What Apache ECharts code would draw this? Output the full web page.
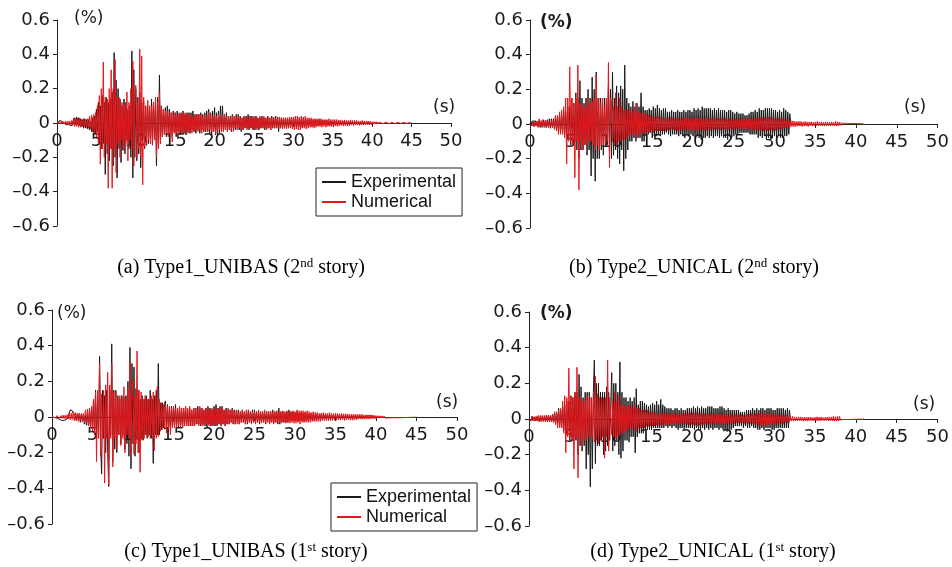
<!DOCTYPE html>
<html>
<head>
<meta charset="utf-8">
<title>Drift time histories</title>
<script src="https://cdn.jsdelivr.net/npm/echarts@6/dist/echarts.min.js"></script>
<style>
  html, body { margin: 0; padding: 0; background: #fff; }
  #chart { width: 952px; height: 567px; }
</style>
</head>
<body>
<div id="chart"></div>
<script>
// sample step of the digitised records (s): value i is at t = i * DT, one row = 1 s
var DT = 0.125;
var xMin = 0, xMax = 50, xStep = 5;
var yMin = -0.6, yMax = 0.6, yStep = 0.2;
var seriesNames = ['Experimental', 'Numerical'];
var captions = [
  ['(a) Type1_UNIBAS (2', 'nd', ' story)'],
  ['(b) Type2_UNICAL (2', 'nd', ' story)'],
  ['(c) Type1_UNIBAS (1', 'st', ' story)'],
  ['(d) Type2_UNICAL (1', 'st', ' story)']
];

// (a) Type1_UNIBAS 2nd story
var expA = [
  0, 0.01, 0.005, 0.015, 0.01, 0.02, 0.005, 0.01,
  -0.005, -0.01, -0.015, -0.02, -0.01, -0.02, -0.005, -0.015,
  0.01, -0.005, 0.03, -0.01, 0.035, -0.01, 0.03, -0.015,
  0.025, -0.02, 0.02, -0.03, 0.025, -0.03, 0.02, -0.035,
  0.02, -0.04, 0.01, -0.05, 0.03, -0.055, 0.04, -0.06,
  0.08, -0.05, 0.12, -0.1, 0.1, -0.15, 0.16, -0.12,
  0.12, -0.3, 0.15, -0.18, 0.12, -0.22, 0.14, -0.15,
  0.18, -0.25, 0.41, -0.2, 0.25, -0.32, 0.2, -0.15,
  0.14, -0.23, 0.1, -0.16, 0.14, -0.18, 0.12, -0.1,
  0.08, -0.15, 0.1, -0.2, 0.42, -0.32, 0.31, -0.2,
  0.2, -0.22, 0.15, -0.18, 0.18, -0.26, 0.12, -0.1,
  0.12, -0.15, 0.1, -0.13, 0.13, -0.12, 0.1, -0.12,
  0.14, -0.1, 0.12, -0.08, 0.1, -0.25, 0.15, -0.12,
  0.28, -0.12, 0.1, -0.08, 0.08, -0.06, 0.09, -0.08,
  0.1, -0.06, 0.08, -0.07, 0.06, -0.08, 0.07, -0.05,
  0.06, -0.08, 0.07, -0.05, 0.05, -0.07, 0.06, -0.06,
  0.07, -0.06, 0.05, -0.07, 0.06, -0.05, 0.06, -0.06,
  0.06, -0.04, 0.07, -0.05, 0.05, -0.06, 0.05, -0.04,
  0.05, -0.06, 0.06, -0.04, 0.05, -0.05, 0.06, -0.05,
  0.07, -0.05, 0.08, -0.06, 0.06, -0.07, 0.07, -0.05,
  0.09, -0.07, 0.06, -0.08, 0.07, -0.06, 0.1, -0.05,
  0.1, -0.05, 0.05, -0.04, 0.06, -0.05, 0.04, -0.04,
  0.04, -0.05, 0.05, -0.03, 0.04, -0.04, 0.05, -0.03,
  0.05, -0.04, 0.04, -0.05, 0.03, -0.04, 0.04, -0.03,
  0.04, -0.03, 0.05, -0.04, 0.04, -0.03, 0.04, -0.04,
  0.03, -0.04, 0.04, -0.03, 0.03, -0.04, 0.03, -0.03,
  0.04, -0.03, 0.03, -0.04, 0.03, -0.03, 0.04, -0.03,
  0.03, -0.04, 0.04, -0.03, 0.03, -0.03, 0.04, -0.03,
  0.035, -0.05, 0.03, -0.03, 0.03, -0.025, 0.03, -0.03,
  0.03, -0.02, 0.03, -0.03, 0.025, -0.02, 0.03, -0.025,
  0.025, -0.02, 0.03, -0.025, 0.02, -0.02, 0.025, -0.02,
  0.02, -0.025, 0.025, -0.02, 0.02, -0.02, 0.02, -0.015,
  0.02, -0.015, 0.02, -0.02, 0.015, -0.015, 0.02, -0.015,
  0.015, -0.015, 0.02, -0.015, 0.015, -0.012, 0.015, -0.012,
  0.015, -0.012, 0.015, -0.015, 0.012, -0.012, 0.012, -0.01,
  0.012, -0.01, 0.012, -0.012, 0.01, -0.01, 0.012, -0.01,
  0.01, -0.01, 0.012, -0.01, 0.01, -0.008, 0.01, -0.008,
  0.01, -0.008, 0.01, -0.008, 0.008, -0.008, 0.008, -0.006,
  0.008, -0.008, 0.008, -0.006, 0.006, -0.006, 0.006, -0.005,
  0.006, -0.005, 0.006, -0.005, 0.005, -0.004, 0.004, -0.003,
  0
];
var numA = [
  0, 0.005, -0.003, 0.008, -0.005, 0.01, -0.005, 0.008,
  -0.006, 0.01, -0.008, 0.01, -0.01, 0.012, -0.01, 0.015,
  -0.015, 0.03, -0.02, 0.025, -0.02, 0.03, -0.025, 0.03,
  -0.025, 0.02, -0.02, 0.025, -0.02, 0.02, -0.025, 0.025,
  -0.03, 0.04, -0.035, 0.045, -0.05, 0.05, -0.06, 0.06,
  -0.08, 0.1, -0.12, 0.16, -0.24, 0.2, -0.15, 0.355,
  -0.2, 0.15, -0.12, 0.14, -0.38, 0.2, -0.15, 0.31,
  -0.38, 0.2, -0.15, 0.37, -0.29, 0.15, -0.12, 0.15,
  -0.2, 0.12, -0.1, 0.12, -0.15, 0.1, -0.12, 0.18,
  -0.22, 0.12, -0.1, 0.2, -0.15, 0.36, -0.25, 0.15,
  0.22, -0.2, 0.12, -0.15, 0.43, -0.2, 0.39, -0.36,
  0.15, -0.14, 0.1, -0.12, 0.13, -0.1, 0.1, -0.12,
  0.1, -0.13, 0.12, -0.1, 0.15, -0.2, 0.12, -0.15,
  0.18, -0.12, 0.1, -0.08, 0.08, -0.07, 0.07, -0.06,
  0.07, -0.08, 0.06, -0.07, 0.06, -0.11, 0.05, -0.06,
  0.06, -0.06, 0.05, -0.07, 0.06, -0.05, 0.05, -0.07,
  0.06, -0.05, 0.06, -0.05, 0.05, -0.06, 0.05, -0.05,
  0.05, -0.06, 0.04, -0.05, 0.05, -0.04, 0.05, -0.05,
  0.05, -0.04, 0.05, -0.06, 0.04, -0.05, 0.05, -0.04,
  0.04, -0.05, 0.06, -0.04, 0.05, -0.05, 0.04, -0.05,
  0.05, -0.06, 0.04, -0.05, 0.05, -0.04, 0.05, -0.05,
  0.04, -0.05, 0.05, -0.04, 0.04, -0.05, 0.04, -0.04,
  0.03, -0.04, 0.04, -0.05, 0.04, -0.03, 0.04, -0.04,
  0.04, -0.03, 0.03, -0.04, 0.03, -0.04, 0.04, -0.03,
  0.03, -0.04, 0.03, -0.03, 0.04, -0.03, 0.03, -0.04,
  0.04, -0.03, 0.03, -0.04, 0.03, -0.03, 0.04, -0.03,
  0.03, -0.03, 0.04, -0.03, 0.03, -0.04, 0.03, -0.03,
  0.03, -0.04, 0.03, -0.03, 0.035, -0.03, 0.03, -0.03,
  0.03, -0.03, 0.035, -0.03, 0.03, -0.035, 0.03, -0.03,
  0.03, -0.035, 0.03, -0.03, 0.035, -0.03, 0.035, -0.035,
  0.035, -0.04, 0.04, -0.035, 0.04, -0.04, 0.035, -0.04,
  0.04, -0.03, 0.035, -0.03, 0.04, -0.035, 0.03, -0.03,
  0.03, -0.025, 0.03, -0.025, 0.025, -0.03, 0.025, -0.025,
  0.025, -0.02, 0.025, -0.02, 0.025, -0.025, 0.02, -0.02,
  0.02, -0.025, 0.02, -0.02, 0.025, -0.02, 0.02, -0.02,
  0.02, -0.015, 0.02, -0.018, 0.02, -0.02, 0.018, -0.015,
  0.018, -0.015, 0.015, -0.018, 0.018, -0.015, 0.015, -0.018,
  0.015, -0.015, 0.018, -0.012, 0.015, -0.015, 0.015, -0.012,
  0.015, -0.012, 0.012, -0.015, 0.012, -0.012, 0.015, -0.012,
  0.012, -0.01, 0.012, -0.01, 0.012, -0.012, 0.01, -0.01,
  0.008, -0.006, 0.007, -0.006, 0.008, -0.006, 0.006, -0.006,
  0.006, -0.005, 0.006, -0.005, 0.005, -0.005, 0.006, -0.004,
  0.005, -0.005, 0.005, -0.004, 0.004, -0.005, 0.004, -0.004,
  0.004, -0.004, 0.004, -0.003, 0.004, -0.003, 0.003, -0.003,
  0.003, -0.003, 0.002, -0.002, 0.002, -0.002, 0.002, -0.001,
  0
];

// (b) Type2_UNICAL 2nd story
var expB = [
  0, 0.015, -0.01, 0.02, -0.015, 0.02, -0.01, 0.015,
  -0.015, 0.02, -0.02, 0.015, -0.02, 0.025, -0.015, 0.02,
  -0.02, 0.025, -0.02, 0.03, -0.025, 0.03, -0.02, 0.03,
  -0.03, 0.04, -0.035, 0.04, -0.04, 0.05, -0.045, 0.05,
  -0.05, 0.08, -0.06, 0.07, -0.06, 0.1, -0.08, 0.1,
  -0.12, 0.15, -0.1, 0.12, -0.1, 0.18, -0.15, 0.15,
  -0.2, 0.25, -0.15, 0.15, -0.15, 0.12, -0.12, 0.15,
  -0.18, 0.2, -0.15, 0.15, -0.3, 0.27, -0.2, 0.2,
  -0.33, 0.3, -0.2, 0.15, -0.2, 0.15, -0.15, 0.12,
  -0.18, 0.15, -0.12, 0.15, -0.12, 0.22, -0.15, 0.2,
  -0.2, 0.3, -0.18, 0.15, -0.15, 0.22, -0.2, 0.18,
  -0.23, 0.22, -0.15, 0.2, -0.27, 0.34, -0.2, 0.15,
  -0.15, 0.12, -0.1, 0.1, -0.1, 0.13, -0.08, 0.1,
  -0.1, 0.12, -0.08, 0.1, -0.08, 0.18, -0.1, 0.1,
  -0.1, 0.08, -0.06, 0.08, -0.06, 0.09, -0.05, 0.08,
  -0.08, 0.1, -0.07, 0.09, -0.07, 0.11, -0.06, 0.09,
  -0.07, 0.08, -0.06, 0.09, -0.06, 0.09, -0.05, 0.07,
  -0.06, 0.07, -0.07, 0.08, -0.06, 0.07, -0.06, 0.07,
  -0.06, 0.08, -0.07, 0.07, -0.06, 0.07, -0.07, 0.08,
  -0.08, 0.07, -0.06, 0.08, -0.07, 0.08, -0.06, 0.07,
  -0.07, 0.09, -0.08, 0.08, -0.07, 0.09, -0.08, 0.08,
  -0.09, 0.1, -0.08, 0.09, -0.08, 0.09, -0.07, 0.09,
  -0.08, 0.09, -0.07, 0.08, -0.08, 0.09, -0.07, 0.08,
  -0.07, 0.09, -0.08, 0.08, -0.07, 0.08, -0.08, 0.08,
  -0.08, 0.07, -0.09, 0.08, -0.07, 0.08, -0.08, 0.07,
  -0.07, 0.06, -0.06, 0.07, -0.06, 0.06, -0.05, 0.06,
  -0.05, 0.06, -0.05, 0.05, -0.05, 0.05, -0.05, 0.06,
  -0.06, 0.07, -0.06, 0.07, -0.06, 0.08, -0.06, 0.07,
  -0.08, 0.09, -0.07, 0.08, -0.08, 0.08, -0.07, 0.09,
  -0.09, 0.09, -0.08, 0.09, -0.08, 0.09, -0.08, 0.08,
  -0.07, 0.08, -0.08, 0.07, -0.07, 0.08, -0.08, 0.07,
  -0.08, 0.09, -0.07, 0.08, -0.07, 0.07, -0.06, 0.06,
  0
];
var numB = [
  0, 0.01, -0.01, 0.015, -0.01, 0.012, -0.012, 0.015,
  -0.02, 0.03, -0.015, 0.02, -0.015, 0.02, -0.02, 0.02,
  -0.02, 0.02, -0.015, 0.02, -0.015, 0.02, -0.02, 0.02,
  -0.03, 0.05, -0.04, 0.05, -0.06, 0.07, -0.06, 0.08,
  -0.06, 0.1, -0.08, 0.15, -0.23, 0.15, -0.1, 0.33,
  -0.1, 0.15, -0.12, 0.12, -0.31, 0.15, -0.1, 0.34,
  -0.38, 0.12, -0.1, 0.12, -0.15, 0.1, -0.12, 0.1,
  -0.12, 0.15, -0.1, 0.12, -0.1, 0.13, -0.12, 0.15,
  -0.15, 0.28, -0.12, 0.15, -0.15, 0.12, -0.12, 0.15,
  -0.12, 0.1, -0.12, 0.15, -0.1, 0.355, -0.25, 0.15,
  0.12, -0.1, 0.1, -0.12, 0.18, -0.12, 0.1, -0.1,
  0.15, -0.1, 0.1, -0.09, 0.08, -0.09, 0.08, -0.08,
  0.08, -0.07, 0.09, -0.06, 0.07, -0.06, 0.08, -0.06,
  0.12, -0.08, 0.07, -0.06, 0.07, -0.06, 0.06, -0.05,
  0.06, -0.05, 0.06, -0.05, 0.05, -0.05, 0.05, -0.04,
  0.04, -0.05, 0.04, -0.04, 0.045, -0.04, 0.04, -0.04,
  0.04, -0.04, 0.03, -0.04, 0.035, -0.04, 0.03, -0.035,
  0.03, -0.035, 0.04, -0.03, 0.035, -0.03, 0.03, -0.035,
  0.035, -0.04, 0.03, -0.035, 0.03, -0.035, 0.035, -0.03,
  0.04, -0.03, 0.035, -0.04, 0.035, -0.03, 0.03, -0.035,
  0.03, -0.04, 0.04, -0.03, 0.035, -0.04, 0.03, -0.035,
  0.035, -0.03, 0.03, -0.04, 0.03, -0.035, 0.035, -0.03,
  0.03, -0.035, 0.03, -0.03, 0.035, -0.03, 0.03, -0.03,
  0.035, -0.03, 0.03, -0.035, 0.03, -0.03, 0.035, -0.03,
  0.03, -0.03, 0.025, -0.03, 0.03, -0.025, 0.03, -0.03,
  0.025, -0.03, 0.03, -0.025, 0.025, -0.03, 0.025, -0.025,
  0.03, -0.025, 0.03, -0.03, 0.025, -0.03, 0.03, -0.025,
  0.035, -0.03, 0.03, -0.035, 0.03, -0.03, 0.035, -0.035,
  0.04, -0.035, 0.035, -0.04, 0.035, -0.04, 0.04, -0.035,
  0.035, -0.04, 0.04, -0.035, 0.04, -0.035, 0.035, -0.04,
  0.03, -0.035, 0.03, -0.03, 0.035, -0.03, 0.03, -0.03,
  0.03, -0.025, 0.025, -0.02, 0.025, -0.02, 0.02, -0.02,
  0.02, -0.015, 0.018, -0.015, 0.015, -0.015, 0.015, -0.012,
  0.015, -0.012, 0.015, -0.015, 0.012, -0.012, 0.015, -0.012,
  0.012, -0.015, 0.012, -0.01, 0.012, -0.012, 0.01, -0.012,
  0.012, -0.01, 0.015, -0.012, 0.012, -0.01, 0.012, -0.012,
  0.01, -0.012, 0.012, -0.01, 0.012, -0.012, 0.01, -0.01,
  0.012, -0.01, 0.01, -0.012, 0.015, -0.012, 0.012, -0.01,
  0.01, -0.008, 0.006, -0.005, 0.004, -0.004, 0.004, -0.003,
  0.004, -0.004, 0.003, -0.003, 0.003, -0.003, 0.003, -0.003,
  0.003, -0.003, 0.002, -0.002, 0.002, -0.002, 0.001, -0.001,
  0
];

// (c) Type1_UNIBAS 1st story
var expC = [
  0, -0.005, -0.002, -0.01, -0.005, -0.012, -0.008, -0.01,
  -0.015, -0.01, -0.02, -0.012, -0.018, -0.01, -0.015, -0.008,
  -0.005, 0.02, 0.04, 0.03, 0.035, 0.02, 0.025, 0.01,
  -0.02, 0.02, -0.015, 0.02, -0.03, 0.015, -0.025, 0.015,
  -0.04, 0.01, -0.045, 0.02, -0.05, 0.03, -0.06, 0.04,
  -0.06, 0.1, -0.1, 0.15, -0.12, 0.1, -0.1, 0.34,
  -0.15, -0.32, 0.15, -0.12, 0.12, -0.2, 0.15, -0.2,
  -0.39, 0.15, -0.1, 0.41, -0.25, 0.15, -0.18, 0.15,
  -0.2, 0.12, -0.1, 0.1, -0.15, 0.12, -0.1, 0.11,
  -0.18, 0.12, -0.15, 0.2, -0.22, 0.39, -0.29, 0.3,
  -0.15, 0.28, -0.22, 0.16, -0.12, 0.15, -0.2, 0.1,
  -0.12, 0.12, -0.13, 0.1, -0.1, 0.12, -0.12, 0.1,
  -0.1, 0.15, -0.12, 0.1, -0.26, 0.12, -0.1, 0.15,
  -0.1, 0.3, -0.1, 0.08, -0.07, 0.08, -0.06, 0.07,
  0.09, -0.06, 0.07, -0.08, 0.06, -0.07, 0.06, -0.05,
  0.06, -0.05, 0.07, -0.06, 0.05, -0.06, 0.05, -0.05,
  0.05, -0.06, 0.05, -0.04, 0.05, -0.05, 0.04, -0.05,
  0.05, -0.05, 0.04, -0.05, 0.05, -0.04, 0.05, -0.04,
  0.06, -0.04, 0.05, -0.05, 0.05, -0.04, 0.04, -0.05,
  0.05, -0.06, 0.06, -0.04, 0.05, -0.05, 0.04, -0.05,
  0.06, -0.05, 0.07, -0.05, 0.05, -0.04, 0.06, -0.05,
  0.06, -0.04, 0.04, -0.05, 0.05, -0.04, 0.04, -0.04,
  0.04, -0.03, 0.05, -0.04, 0.04, -0.04, 0.03, -0.03,
  0.04, -0.04, 0.03, -0.03, 0.04, -0.03, 0.03, -0.04,
  0.03, -0.04, 0.04, -0.03, 0.03, -0.03, 0.04, -0.03,
  0.04, -0.03, 0.03, -0.03, 0.03, -0.04, 0.03, -0.03,
  0.03, -0.03, 0.03, -0.04, 0.03, -0.03, 0.03, -0.03,
  0.03, -0.03, 0.04, -0.03, 0.03, -0.03, 0.03, -0.04,
  0.05, -0.04, 0.03, -0.03, 0.03, -0.03, 0.025, -0.03,
  0.03, -0.03, 0.04, -0.02, 0.03, -0.025, 0.03, -0.02,
  0.025, -0.02, 0.03, -0.025, 0.02, -0.02, 0.025, -0.02,
  0.02, -0.025, 0.025, -0.02, 0.02, -0.02, 0.02, -0.015,
  0.02, -0.015, 0.02, -0.02, 0.015, -0.015, 0.02, -0.015,
  0.015, -0.015, 0.02, -0.015, 0.015, -0.012, 0.015, -0.012,
  0.015, -0.012, 0.015, -0.015, 0.012, -0.012, 0.012, -0.01,
  0.012, -0.01, 0.012, -0.012, 0.01, -0.01, 0.012, -0.01,
  0.01, -0.01, 0.012, -0.01, 0.01, -0.008, 0.01, -0.008,
  0.01, -0.008, 0.01, -0.008, 0.008, -0.008, 0.008, -0.006,
  0.008, -0.008, 0.008, -0.006, 0.006, -0.006, 0.006, -0.005,
  0.006, -0.005, 0.006, -0.005, 0.005, -0.004, 0.004, -0.003,
  0
];
var numC = [
  0, 0.005, -0.003, 0.008, -0.004, 0.008, -0.005, 0.006,
  -0.005, 0.008, -0.008, 0.01, -0.008, 0.01, -0.01, 0.012,
  -0.01, 0.025, -0.015, 0.02, -0.015, 0.03, -0.02, 0.025,
  -0.02, 0.02, -0.025, 0.02, -0.02, 0.02, -0.025, 0.02,
  -0.03, 0.04, -0.035, 0.045, -0.05, 0.05, -0.06, 0.06,
  -0.08, 0.1, -0.1, 0.14, -0.25, 0.15, -0.12, 0.3,
  -0.22, 0.13, -0.12, 0.15, -0.37, 0.18, -0.12, 0.25,
  -0.38, 0.18, -0.12, 0.3, -0.28, 0.14, -0.12, 0.14,
  -0.18, 0.11, -0.1, 0.12, -0.16, 0.1, -0.12, 0.17,
  -0.2, 0.1, -0.1, 0.15, -0.12, 0.31, -0.22, 0.15,
  0.2, -0.21, 0.12, -0.15, 0.37, -0.2, 0.15, -0.31,
  0.14, -0.13, 0.1, -0.12, 0.12, -0.1, 0.1, -0.11,
  0.1, -0.12, 0.12, -0.1, 0.14, -0.19, 0.12, -0.12,
  0.17, -0.11, 0.1, -0.08, 0.08, -0.07, 0.07, -0.06,
  0.07, -0.09, 0.06, -0.07, 0.06, -0.1, 0.05, -0.06,
  0.06, -0.06, 0.05, -0.06, 0.05, -0.05, 0.06, -0.06,
  0.05, -0.06, 0.05, -0.05, 0.06, -0.05, 0.05, -0.05,
  0.06, -0.05, 0.04, -0.05, 0.05, -0.05, 0.05, -0.04,
  0.04, -0.05, 0.06, -0.04, 0.05, -0.05, 0.04, -0.05,
  0.05, -0.04, 0.05, -0.05, 0.04, -0.05, 0.05, -0.04,
  0.04, -0.05, 0.05, -0.04, 0.05, -0.04, 0.05, -0.05,
  0.05, -0.04, 0.04, -0.05, 0.04, -0.04, 0.05, -0.04,
  0.04, -0.03, 0.04, -0.04, 0.03, -0.04, 0.04, -0.04,
  0.03, -0.04, 0.03, -0.03, 0.04, -0.03, 0.03, -0.04,
  0.04, -0.03, 0.04, -0.03, 0.03, -0.04, 0.03, -0.03,
  0.03, -0.04, 0.03, -0.03, 0.04, -0.03, 0.03, -0.03,
  0.03, -0.03, 0.04, -0.03, 0.03, -0.03, 0.03, -0.04,
  0.03, -0.03, 0.03, -0.04, 0.03, -0.03, 0.035, -0.03,
  0.03, -0.03, 0.03, -0.03, 0.035, -0.03, 0.03, -0.035,
  0.035, -0.03, 0.03, -0.035, 0.03, -0.03, 0.035, -0.035,
  0.03, -0.035, 0.04, -0.03, 0.035, -0.04, 0.035, -0.03,
  0.035, -0.03, 0.03, -0.03, 0.035, -0.03, 0.03, -0.03,
  0.025, -0.025, 0.03, -0.025, 0.025, -0.025, 0.025, -0.025,
  0.02, -0.025, 0.02, -0.02, 0.025, -0.02, 0.02, -0.02,
  0.02, -0.02, 0.025, -0.02, 0.02, -0.02, 0.02, -0.018,
  0.02, -0.018, 0.02, -0.015, 0.018, -0.018, 0.02, -0.015,
  0.018, -0.02, 0.018, -0.015, 0.018, -0.015, 0.015, -0.018,
  0.015, -0.018, 0.015, -0.015, 0.015, -0.015, 0.015, -0.012,
  0.015, -0.012, 0.015, -0.012, 0.012, -0.012, 0.012, -0.012,
  0.012, -0.012, 0.012, -0.01, 0.01, -0.01, 0.01, -0.01,
  0.008, -0.006, 0.007, -0.006, 0.007, -0.006, 0.006, -0.006,
  0.006, -0.006, 0.005, -0.005, 0.005, -0.005, 0.005, -0.004,
  0.005, -0.004, 0.005, -0.004, 0.004, -0.004, 0.004, -0.004,
  0.004, -0.004, 0.003, -0.003, 0.003, -0.003, 0.003, -0.003,
  0.003, -0.002, 0.002, -0.002, 0.002, -0.002, 0.001, -0.001,
  0
];

// (d) Type2_UNICAL 1st story
var expD = [
  0, 0.01, -0.01, 0.015, -0.008, 0.012, -0.01, 0.012,
  -0.01, 0.015, -0.015, 0.01, -0.012, 0.015, -0.01, 0.012,
  -0.01, 0.02, -0.015, 0.02, -0.015, 0.02, -0.015, 0.025,
  -0.02, 0.04, -0.03, 0.04, -0.03, 0.06, -0.04, 0.05,
  -0.05, 0.07, -0.06, 0.08, -0.08, 0.1, -0.07, 0.1,
  -0.12, 0.13, -0.1, 0.12, -0.1, 0.15, -0.12, 0.15,
  -0.2, 0.25, -0.15, 0.18, -0.18, 0.12, -0.15, 0.15,
  -0.28, 0.15, -0.2, 0.15, -0.38, 0.12, -0.28, 0.15,
  0.33, -0.25, 0.2, -0.15, 0.2, -0.15, 0.15, -0.12,
  0.15, -0.2, 0.15, -0.18, 0.18, -0.15, 0.15, -0.12,
  -0.12, 0.26, -0.18, 0.2, -0.15, 0.2, -0.12, 0.15,
  -0.2, 0.32, -0.22, 0.15, -0.18, 0.12, -0.12, 0.12,
  -0.12, 0.1, -0.13, 0.12, -0.1, 0.1, -0.1, 0.12,
  -0.19, 0.17, -0.1, 0.08, -0.08, 0.1, -0.08, 0.1,
  -0.08, 0.09, -0.06, 0.08, -0.06, 0.07, -0.06, 0.08,
  -0.06, 0.09, -0.05, 0.08, -0.05, 0.1, -0.05, 0.08,
  -0.05, 0.11, -0.05, 0.08, -0.05, 0.07, -0.04, 0.06,
  -0.05, 0.06, -0.04, 0.06, -0.05, 0.05, -0.04, 0.06,
  -0.05, 0.06, -0.06, 0.05, -0.05, 0.06, -0.05, 0.05,
  -0.06, 0.05, -0.05, 0.06, -0.05, 0.06, -0.05, 0.06,
  -0.05, 0.07, -0.06, 0.06, -0.05, 0.07, -0.06, 0.06,
  -0.06, 0.07, -0.05, 0.06, -0.06, 0.06, -0.05, 0.07,
  -0.06, 0.07, -0.05, 0.07, -0.06, 0.06, -0.05, 0.06,
  -0.05, 0.06, -0.06, 0.07, -0.05, 0.07, -0.06, 0.06,
  -0.06, 0.05, -0.07, 0.06, -0.06, 0.05, -0.06, 0.05,
  -0.05, 0.05, -0.04, 0.05, -0.04, 0.05, -0.04, 0.04,
  -0.04, 0.04, -0.05, 0.04, -0.04, 0.05, -0.05, 0.05,
  -0.05, 0.05, -0.04, 0.06, -0.05, 0.05, -0.05, 0.06,
  -0.06, 0.05, -0.06, 0.06, -0.05, 0.06, -0.06, 0.05,
  -0.05, 0.06, -0.05, 0.06, -0.05, 0.06, -0.06, 0.05,
  -0.06, 0.05, -0.05, 0.06, -0.05, 0.06, -0.05, 0.06,
  -0.05, 0.06, -0.05, 0.05, -0.05, 0.06, -0.05, 0.05,
  0
];
var numD = [
  0, 0.01, -0.01, 0.015, -0.01, 0.012, -0.01, 0.015,
  -0.01, 0.02, -0.015, 0.02, -0.015, 0.02, -0.015, 0.02,
  -0.015, 0.02, -0.01, 0.02, -0.012, 0.02, -0.015, 0.02,
  -0.02, 0.04, -0.03, 0.04, -0.05, 0.05, -0.05, 0.06,
  -0.05, 0.1, -0.08, 0.13, -0.19, 0.12, -0.1, 0.285,
  -0.1, 0.13, -0.12, 0.12, -0.28, 0.15, -0.1, 0.29,
  -0.33, 0.12, -0.1, 0.12, -0.15, 0.1, -0.12, 0.1,
  -0.12, 0.13, -0.1, 0.12, -0.1, 0.12, -0.1, 0.12,
  -0.13, 0.24, -0.12, 0.14, -0.14, 0.12, -0.12, 0.12,
  -0.1, 0.12, -0.22, 0.12, -0.1, 0.33, -0.18, 0.12,
  0.12, -0.09, 0.1, -0.1, 0.15, -0.11, 0.1, -0.1,
  0.13, -0.09, 0.08, -0.08, 0.08, -0.08, 0.07, -0.07,
  0.07, -0.06, 0.08, -0.05, 0.07, -0.06, 0.06, -0.05,
  0.08, -0.07, 0.06, -0.05, 0.06, -0.05, 0.05, -0.05,
  0.05, -0.05, 0.05, -0.04, 0.05, -0.04, 0.04, -0.04,
  0.04, -0.04, 0.035, -0.04, 0.035, -0.035, 0.03, -0.035,
  0.03, -0.035, 0.03, -0.03, 0.035, -0.03, 0.03, -0.03,
  0.03, -0.03, 0.025, -0.03, 0.03, -0.025, 0.03, -0.03,
  0.025, -0.03, 0.03, -0.025, 0.025, -0.03, 0.03, -0.025,
  0.03, -0.025, 0.035, -0.03, 0.03, -0.035, 0.035, -0.03,
  0.035, -0.03, 0.03, -0.035, 0.035, -0.035, 0.03, -0.035,
  0.03, -0.03, 0.025, -0.03, 0.03, -0.025, 0.025, -0.03,
  0.025, -0.03, 0.03, -0.025, 0.025, -0.025, 0.03, -0.025,
  0.03, -0.025, 0.025, -0.03, 0.025, -0.025, 0.025, -0.03,
  0.025, -0.03, 0.025, -0.025, 0.02, -0.025, 0.025, -0.025,
  0.02, -0.025, 0.025, -0.02, 0.02, -0.02, 0.025, -0.02,
  0.025, -0.02, 0.02, -0.025, 0.02, -0.02, 0.025, -0.025,
  0.025, -0.025, 0.03, -0.025, 0.025, -0.03, 0.03, -0.025,
  0.03, -0.04, 0.03, -0.035, 0.03, -0.04, 0.035, -0.03,
  0.025, -0.035, 0.03, -0.03, 0.03, -0.035, 0.025, -0.03,
  0.025, -0.03, 0.025, -0.025, 0.025, -0.025, 0.02, -0.025,
  0.02, -0.025, 0.02, -0.02, 0.02, -0.02, 0.015, -0.015,
  0.015, -0.012, 0.015, -0.012, 0.012, -0.012, 0.012, -0.01,
  0.012, -0.01, 0.012, -0.01, 0.01, -0.012, 0.01, -0.01,
  0.01, -0.012, 0.01, -0.008, 0.01, -0.01, 0.008, -0.01,
  0.01, -0.008, 0.012, -0.01, 0.01, -0.01, 0.012, -0.008,
  0.008, -0.01, 0.01, -0.008, 0.01, -0.01, 0.012, -0.01,
  0.012, -0.01, 0.015, -0.012, 0.012, -0.012, 0.015, -0.012,
  0.015, -0.006, 0.004, -0.003, 0.003, -0.003, 0.003, -0.003,
  0.003, -0.003, 0.002, -0.003, 0.002, -0.002, 0.002, -0.002,
  0.002, -0.002, 0.002, -0.001, 0.001, -0.001, 0.001, -0.001,
  0
];

var records = [[expA, numA], [expB, numB], [expC, numC], [expD, numD]];

function toPairs(arr) {
  return arr.map(function (v, i) { return [i * DT, v]; });
}

var chart = echarts.init(document.getElementById('chart'), null, { renderer: 'canvas' });

var grids = [
  { left: 57, top: 20, width: 394, height: 206 },
  { left: 530, top: 20, width: 410, height: 208 },
  { left: 52, top: 310, width: 405, height: 214 },
  { left: 529, top: 312, width: 410, height: 214 }
];

var tickFont = { fontFamily: 'DejaVu Sans', fontSize: 18, color: '#1a1a1a' };
var axisColor = '#222';

var xAxes = [], yAxes = [], series = [];
grids.forEach(function (g, k) {
  g.containLabel = false;
  xAxes.push({
    type: 'value', gridIndex: k, min: xMin, max: xMax, interval: xStep,
    position: 'bottom', offset: -g.height / 2,
    axisLine: { onZero: false, lineStyle: { color: axisColor, width: 1 } },
    axisTick: { show: true, length: 4, lineStyle: { color: axisColor } },
    axisLabel: Object.assign({ margin: 9 }, tickFont),
    splitLine: { show: false }
  });
  yAxes.push({
    type: 'value', gridIndex: k, min: yMin, max: yMax, interval: yStep,
    axisLine: { show: true, onZero: false, lineStyle: { color: axisColor, width: 1 } },
    axisTick: { show: true, length: 4, lineStyle: { color: axisColor } },
    axisLabel: Object.assign({
      margin: 7,
      formatter: function (v) {
        if (Math.abs(v) < 1e-9) return '0';
        return v < 0 ? '\u2013' + Math.abs(v).toFixed(1) : v.toFixed(1);
      }
    }, tickFont),
    splitLine: { show: false }
  });
  series.push({
    name: seriesNames[0], type: 'line', xAxisIndex: k, yAxisIndex: k,
    data: toPairs(records[k][0]), symbol: 'none', silent: true,
    lineStyle: { color: '#1a1a1a', width: 1 }, itemStyle: { color: '#1a1a1a' }
  });
  series.push({
    name: seriesNames[1], type: 'line', xAxisIndex: k, yAxisIndex: k,
    data: toPairs(records[k][1]), symbol: 'none', silent: true,
    lineStyle: { color: '#e8161b', width: 1 }, itemStyle: { color: '#e8161b' }
  });
});

function legendAt(left, top) {
  return {
    left: left, top: top, orient: 'vertical',
    data: seriesNames.map(function (n) { return { name: n, icon: 'rect' }; }),
    selectedMode: false, borderColor: '#222', borderWidth: 1, borderRadius: 0,
    padding: [5, 6, 5, 6], itemGap: 2, itemWidth: 24, itemHeight: 2,
    textStyle: { fontFamily: 'Liberation Sans', fontSize: 18, color: '#111', lineHeight: 18 }
  };
}

function unitText(x, y, text, bold) {
  return {
    type: 'text', x: x, y: y, silent: true,
    style: {
      text: text, fill: '#1a1a1a',
      font: (bold ? 'bold ' : '') + '17px "DejaVu Sans"',
      align: 'left', verticalAlign: 'top'
    }
  };
}

function caption(x, y, parts) {
  return {
    type: 'text', x: x, y: y, silent: true,
    style: {
      text: '{m|' + parts[0] + '}{s|' + parts[1] + '}{m|' + parts[2] + '}',
      align: 'center', verticalAlign: 'middle',
      rich: {
        m: { fontFamily: 'Liberation Serif', fontSize: 20, lineHeight: 22, color: '#1a1a1a' },
        s: { fontFamily: 'Liberation Serif', fontSize: 13, lineHeight: 13, verticalAlign: 'top', color: '#1a1a1a' }
      }
    }
  };
}

var option = {
  backgroundColor: '#fff',
  animation: false,
  grid: grids,
  xAxis: xAxes,
  yAxis: yAxes,
  legend: [legendAt(316, 168), legendAt(331, 483)],
  series: series,
  graphic: [
    unitText(74, 10, '(%)', false),
    unitText(540, 14, '(%)', true),
    unitText(57, 305, '(%)', false),
    unitText(540, 305, '(%)', true),
    unitText(433, 99, '(s)', false),
    unitText(904, 99, '(s)', false),
    unitText(436, 394, '(s)', false),
    unitText(913, 396, '(s)', false),
    caption(241, 268, captions[0]),
    caption(694, 268, captions[1]),
    caption(246, 552, captions[2]),
    caption(713, 552, captions[3])
  ]
};

chart.setOption(option);
</script>
</body>
</html>
